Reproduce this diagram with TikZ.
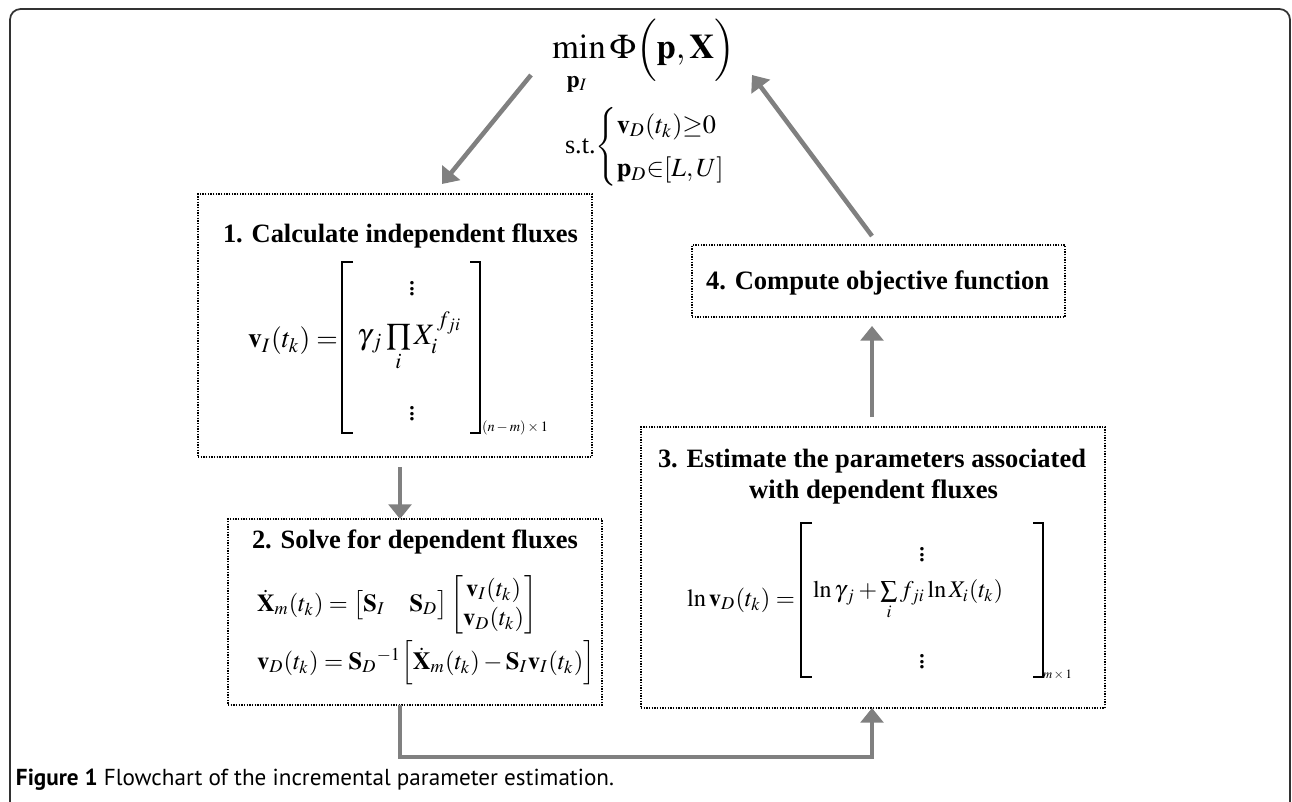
\documentclass[tikz,border=0pt]{standalone}
\usepackage{amsmath}
\usepackage{mathptmx}
\usepackage[no-math]{fontspec}
\setmainfont{Liberation Serif}
\newfontfamily\capfont{PT Sans}
\usepackage{graphicx}
\usetikzlibrary{arrows.meta}
\newlength\pxu \setlength\pxu{0.75pt}
\newcommand{\fitw}[2]{\resizebox{#1\pxu}{!}{#2}}
\newcommand{\bigvd}{{\fontsize{22pt}{22pt}\selectfont$\vdots$}}
\definecolor{arrgray}{RGB}{128,128,128}
\definecolor{framegray}{RGB}{50,50,50}
\begin{document}
\begin{tikzpicture}[x=0.75pt,y=-0.75pt,
  box/.style={draw=black, line width=1.6pt, dash pattern=on 1pt off 1pt, inner sep=0pt, outer sep=0pt},
  txt/.style={inner sep=0pt, outer sep=0pt, text=black},
  arr/.style={draw=arrgray, line width=3.4pt, -{Triangle[length=11pt,width=17pt]}, arrgray},
  brk/.style={draw=black, line width=1.1pt},
  frame/.style={draw=framegray, line width=1.3pt, rounded corners=8pt}]
\useasboundingbox (0,0) rectangle (1292,802);
\clip (0,0) rectangle (1292,802);
\fill[white] (0,0) rectangle (1292,802);
\draw[frame] (10,830) -- (10,9) -- (1290,9) -- (1290,830);

% boxes
\node[box, minimum width=394\pxu, minimum height=263\pxu] (b1) at (395,325.5) {};
\node[box, minimum width=374\pxu, minimum height=186\pxu] (b2) at (415,612) {};
\node[box, minimum width=464\pxu, minimum height=281\pxu] (b3) at (873,567.5) {};
\node[box, minimum width=373\pxu, minimum height=72\pxu] (b4) at (878.5,281) {};

% objective
\node[txt, anchor=base west] (objf) at (552,59) {\fitw{183}{$\min\Phi\Big(\mathbf{p},\mathbf{X}\Big)$}};
\node[txt] (objsub) at (577,84) {\fitw{21}{$\mathbf{p}_I$}};
\node[txt, anchor=west] (cons) at (565,147) {\fitw{188}{s.t.$\begin{cases}\mathbf{v}_D(t_k){\geq}0\\[2pt] \mathbf{p}_D{\in}[L,U]\end{cases}$}};

% titles
\node[txt, anchor=base west] (t1) at (223,243) {\fitw{355}{\textbf{1. Calculate independent fluxes}}};
\node[txt, anchor=base west] (t2) at (252,548) {\fitw{326}{\textbf{2. Solve for dependent fluxes}}};
\node[txt, anchor=base west] (t3a) at (658,467) {\fitw{428}{\textbf{3. Estimate the parameters associated}}};
\node[txt, anchor=base west] (t3b) at (749,498) {\fitw{249}{\textbf{with dependent fluxes}}};
\node[txt, anchor=base west] (t4) at (706,290) {\fitw{343}{\textbf{4. Compute objective function}}};

% box 1 equation
\node[txt, anchor=west] (e1l) at (248,341) {\fitw{90}{$\mathbf{v}_I(t_k)=$}};
\node[txt, anchor=west] (e1m) at (357,342) {\fitw{106}{$\gamma_{\,j}\prod\limits_i X_i^{\,f_{ji}}$}};
\node[txt] (e1d1) at (412,285) {\bigvd};
\node[txt] (e1d2) at (412,410) {\bigvd};
\node[txt, anchor=west] (e1s) at (482,428) {\fitw{66}{$(n-m)\times1$}};
\draw[brk] (353,262) -- (342,262) -- (342,433) -- (353,433);
\draw[brk] (470,262) -- (480,262) -- (480,433) -- (470,433);

% box 2 equations
\node[txt, anchor=west] (e2a) at (257,605) {\fitw{280}{$\dot{\mathbf{X}}_m(t_k)=\big[\mathbf{S}_I\quad\mathbf{S}_D\big]\begin{bmatrix}\mathbf{v}_I(t_k)\\ \mathbf{v}_D(t_k)\end{bmatrix}$}};
\node[txt, anchor=west] (e2b) at (257,663) {\fitw{338}{$\mathbf{v}_D(t_k)=\mathbf{S}_D{}^{-1}\Big[\dot{\mathbf{X}}_m(t_k)-\mathbf{S}_I\mathbf{v}_I(t_k)\Big]$}};

% box 3 equation
\node[txt, anchor=west] (e3l) at (687,600) {\fitw{108}{$\ln\mathbf{v}_D(t_k)=$}};
\node[txt, anchor=west] (e3m) at (813,600) {\fitw{190}{$\ln\gamma_{\,j}+\sum\limits_i f_{ji}\ln X_i(t_k)$}};
\node[txt] (e3d1) at (922,551) {\bigvd};
\node[txt] (e3d2) at (922,658) {\bigvd};
\node[txt, anchor=west] (e3s) at (1043,675) {\fitw{29}{$m\times1$}};
\draw[brk] (812,523) -- (801,523) -- (801,677) -- (812,677);
\draw[brk] (1033,523) -- (1043,523) -- (1043,677) -- (1033,677);

% connectors
\coordinate (a1s) at (531,75);
\coordinate (a1e) at (442,184);
\coordinate (a4s) at (872,236);
\coordinate (a4e) at (752,75);
\coordinate (c12) at (400,467);
\coordinate (c34) at (872,417);
\coordinate (c34e) at (872,326);
\coordinate (cb) at (400,757);
\draw[arr] (a1s) -- (a1e);
\draw[arr] (a4s) -- (a4e);
\draw[arr] (c12) -- (c12 |- b2.north);
\draw[arr] (c34) -- (c34e);
\draw[arr, line join=miter] (cb |- b2.south) -- (cb) -| (c34 |- b3.south);

% caption
\node[txt, anchor=base west] (cap) at (16,785) {\fitw{598}{\capfont\textbf{Figure 1} Flowchart of the incremental parameter estimation.}};
\end{tikzpicture}
\end{document}
